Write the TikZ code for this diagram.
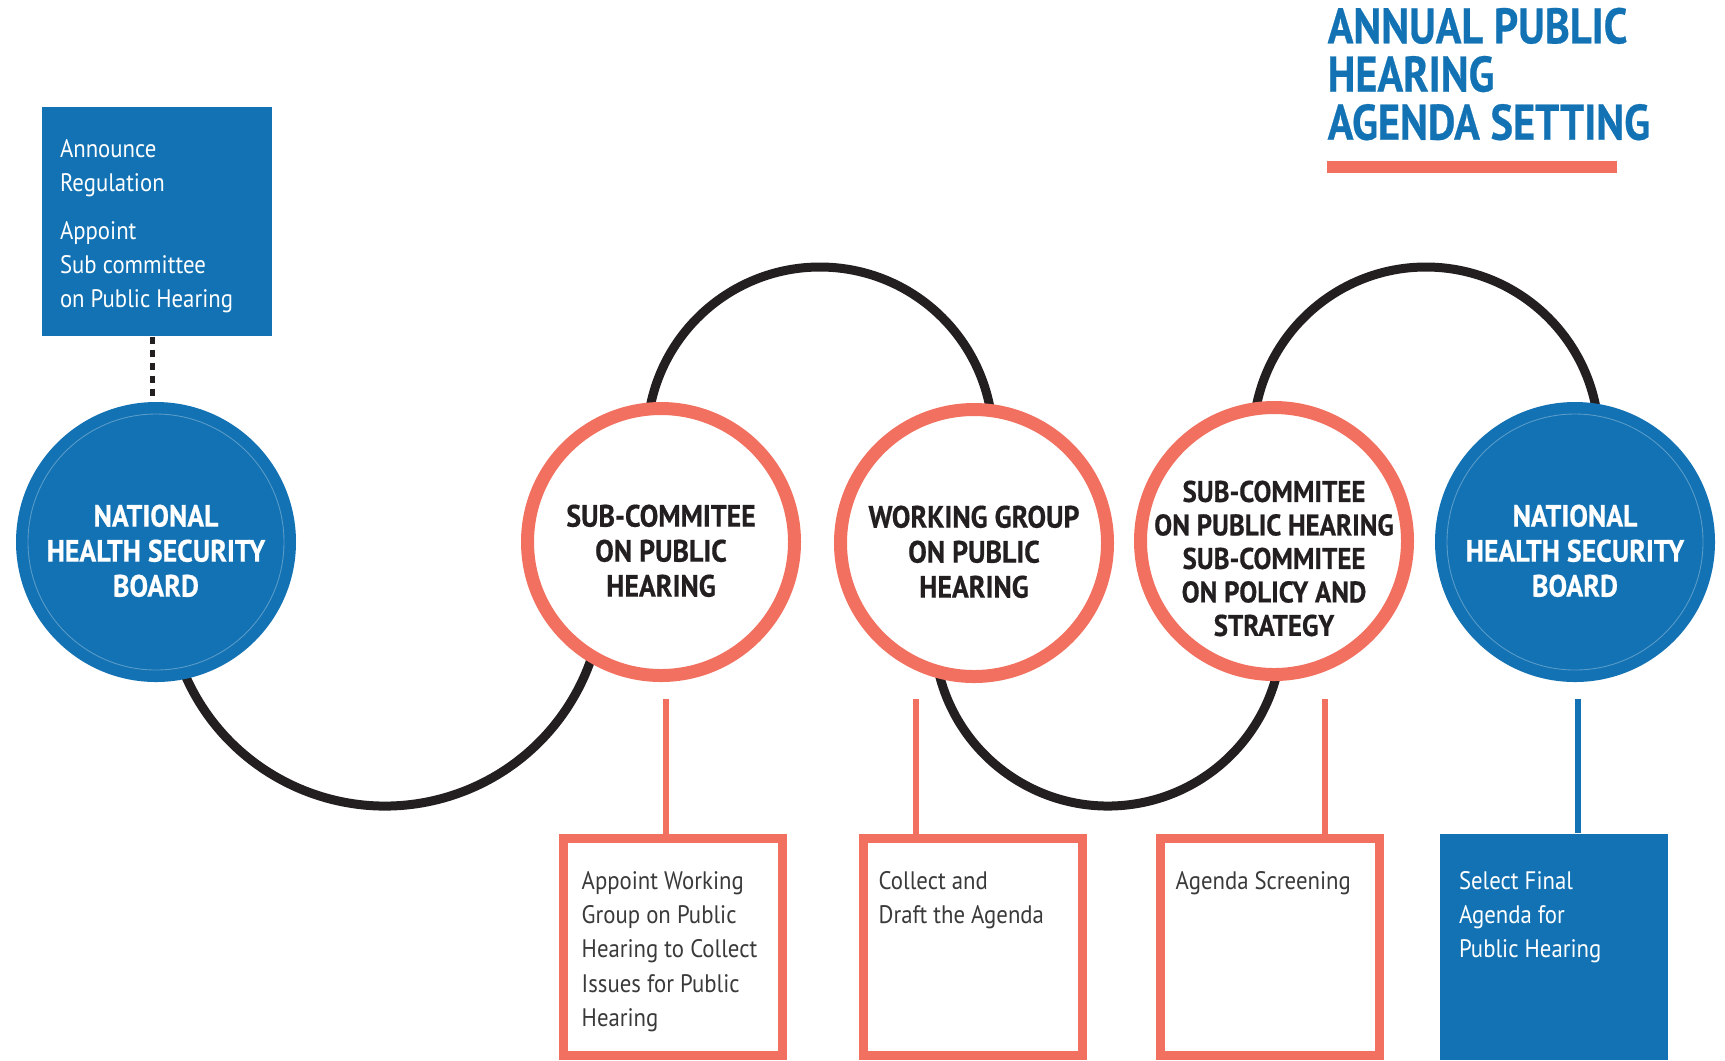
\documentclass[tikz,border=0pt]{standalone}
\usepackage{fontspec}
\setmainfont{PT Sans}[FakeStretch=0.9]
\newfontfamily\headfont{PT Sans}[FakeStretch=0.9, FakeBold=0.5]
\newfontfamily\titlefont{PT Sans}[FakeStretch=0.85, FakeBold=0.5]
\usetikzlibrary{positioning}

\definecolor{hsblue}{HTML}{1272B3}
\definecolor{hssalmon}{HTML}{F2705F}
\definecolor{hsink}{HTML}{231F20}
\definecolor{hstext}{HTML}{3A3A3A}

\newcommand{\lift}[1]{\rule{0pt}{#1}}

\begin{document}
\begin{tikzpicture}[x=0.1mm, y=-0.1mm,
  board/.style = {circle, fill=hsblue, minimum size=28mm, inner sep=0pt, text=white, align=center, font=\headfont\bfseries\fontsize{8.8}{9.96}\selectfont},
  teamring/.style = {circle, draw=hssalmon, fill=white, line width=1.3mm, minimum size=26.7mm, inner sep=-5mm, text=hsink, align=center, font=\headfont\bfseries\fontsize{8.8}{9.96}\selectfont},
  taskbox/.style = {draw=hssalmon, fill=white, line width=0.9mm, minimum width=21.9mm, minimum height=21.7mm, inner sep=0pt},
  finalbox/.style = {fill=hsblue, minimum width=22.8mm, minimum height=22.6mm, inner sep=0pt},
  tasktext/.style = {inner sep=0pt, align=left, text=hstext, font=\fontsize{7.2}{9.7}\selectfont},
  arcline/.style = {draw=hsink, line width=0.9mm},
  dropline/.style = {draw=hssalmon, line width=0.6mm},
]
\useasboundingbox (0,0) rectangle (1725,1060);

% title
\node[anchor=north west, inner sep=0pt, align=left, text=hsblue, font=\titlefont\bfseries\fontsize{14.2}{13.7}\selectfont] (title) at (1327,7) {ANNUAL PUBLIC\\HEARING\\AGENDA SETTING};
\fill[hssalmon] (1327,161) rectangle (1617,173);

% the wave behind the circles
\coordinate (dipA) at (385,588);
\coordinate (humpA) at (820,440);
\coordinate (dipB) at (1108,632);
\coordinate (humpB) at (1426,440);
\draw[arcline] (dipA) ++(160:218) arc[start angle=160, end angle=15, radius=218];
\draw[arcline] (humpA) ++(185:173) arc[start angle=185, end angle=355, radius=173];
\draw[arcline] (dipB) ++(170:174) arc[start angle=170, end angle=10, radius=174];
\draw[arcline] (humpB) ++(185:173) arc[start angle=185, end angle=355, radius=173];

% circles
\node[board] (nhsbL) at (156,542) {\lift{11.3pt}NATIONAL\\HEALTH SECURITY\\BOARD};
\draw[hsblue!70!white, line width=0.25pt] (nhsbL) circle[radius=128];
\node[teamring] (subph) at (661,542) {\lift{11.3pt}SUB-COMMITEE\\ON PUBLIC\\HEARING};
\node[teamring] (wgph) at (974,543) {\lift{11.3pt}WORKING GROUP\\ON PUBLIC\\HEARING};
\node[teamring, font=\headfont\bfseries\fontsize{8.5}{9.53}\selectfont] (subps) at (1274,541) {\lift{16pt}SUB-COMMITEE\\ON PUBLIC HEARING\\SUB-COMMITEE\\ON POLICY AND\\STRATEGY};
\node[board] (nhsbR) at (1575,542) {\lift{11.3pt}NATIONAL\\HEALTH SECURITY\\BOARD};
\draw[hsblue!70!white, line width=0.25pt] (nhsbR) circle[radius=128];

% announce box
\node[finalbox, minimum width=23mm, minimum height=22.9mm] (announce) at (157,221.5) {};
\node[tasktext, text=white, below right=3.2mm and 1.8mm of announce.north west] {Announce\\Regulation\\[1.4mm]Appoint\\Sub committee\\on Public Hearing};
\draw[hsink, line width=0.5mm, dash pattern=on 0.7mm off 0.6mm] (announce.south -| 152,0) -- (nhsbL.north -| 152,0);

% task boxes
\node[taskbox] (task1) at (673,947) {};
\node[taskbox] (task2) at (973,947) {};
\node[taskbox] (task3) at (1270,947) {};
\node[finalbox] (task4) at (1554,947) {};
\node[tasktext, below right=3.7mm and 2.2mm of task1.north west] {Appoint Working\\Group on Public\\Hearing to Collect\\Issues for Public\\Hearing};
\node[tasktext, below right=3.7mm and 1.9mm of task2.north west] {Collect and\\Draft the Agenda};
\node[tasktext, below right=3.7mm and 1.9mm of task3.north west] {Agenda Screening};
\node[tasktext, text=white, below right=3.7mm and 1.9mm of task4.north west] {Select Final\\Agenda for\\Public Hearing};

% drops
\coordinate (drop1) at (666,699);
\coordinate (drop2) at (916,699);
\coordinate (drop3) at (1325,699);
\coordinate (drop4) at (1578,699);
\draw[dropline] (drop1) -- (drop1 |- task1.north);
\draw[dropline] (drop2) -- (drop2 |- task2.north);
\draw[dropline] (drop3) -- (drop3 |- task3.north);
\draw[dropline, draw=hsblue] (drop4) -- (drop4 |- task4.north);
\end{tikzpicture}
\end{document}
